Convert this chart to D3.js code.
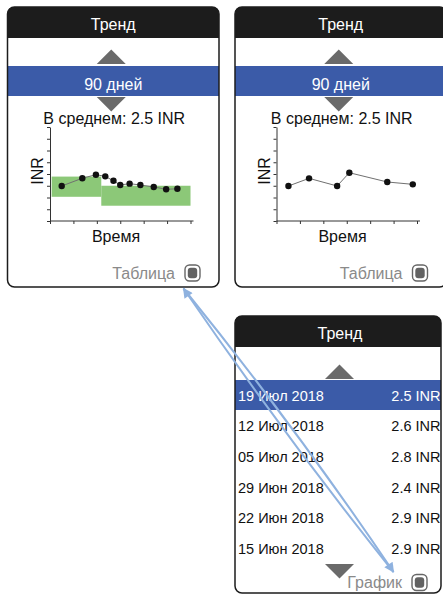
<!DOCTYPE html>
<html><head><meta charset="utf-8">
<script src="https://cdn.jsdelivr.net/npm/d3@7"></script>
<style>html,body{margin:0;padding:0;background:#fff;}svg{display:block;font-family:"Liberation Sans",Arial,sans-serif;}</style>
</head><body>
<script>
// ---- data ----
const leftX = [0.5, 1.38, 1.96, 2.36, 2.71, 3.0, 3.4, 3.86, 4.43, 4.96, 5.44];
const leftY = [2.98, 3.64, 3.94, 3.80, 3.42, 3.06, 3.18, 3.06, 2.90, 2.70, 2.74];
const bandX0 = [0.07, 2.19];
const bandX1 = [2.19, 6.0];
const bandY0 = [2.06, 1.30];
const bandY1 = [3.78, 3.00];
const rightX = [0.51, 1.39, 2.59, 3.11, 4.73, 5.82];
const rightY = [2.98, 3.63, 2.98, 4.11, 3.32, 3.12];
const xTicks = [0, 1, 2, 3, 4, 5, 6];
const yTicks = [0, 1, 2, 3, 4, 5, 6, 7, 8];
const tableDates = ["19 Июл 2018", "12 Июл 2018", "05 Июл 2018", "29 Июн 2018", "22 Июн 2018", "15 Июн 2018"];
const tableValues = ["2.5 INR", "2.6 INR", "2.8 INR", "2.4 INR", "2.9 INR", "2.9 INR"];
const titleText = "Тренд";
const periodText = "90 дней";
const avgText = "В среднем: 2.5 INR";

const W = 443, H = 595;
const BLUE = "#3b5ba8", GREEN = "#8cc878", DARK = "#1c1c1c", TRI = "#6a6a6a", GRAYTXT = "#8a8a8a", ARROW = "#8fb2df";

const svg = d3.select("body").append("svg").attr("width", W).attr("height", H);
const defs = svg.append("defs");
defs.append("marker").attr("id", "ah").attr("viewBox", "0 0 10 10").attr("refX", 9).attr("refY", 5)
  .attr("markerWidth", 14).attr("markerHeight", 10).attr("markerUnits", "userSpaceOnUse").attr("orient", "auto-start-reverse")
  .append("path").attr("d", "M0,0 L10,5 L0,10 Z").attr("fill", ARROW);

function panel(x, y, w, h) {
  const g = svg.append("g");
  const r = 7, tb = 31;
  g.append("rect").attr("x", x).attr("y", y).attr("width", w).attr("height", h).attr("rx", r).attr("fill", "#fff");
  g.append("path").attr("d", `M${x},${y + tb} L${x},${y + r} Q${x},${y} ${x + r},${y} L${x + w - r},${y} Q${x + w},${y} ${x + w},${y + r} L${x + w},${y + tb} Z`).attr("fill", DARK);
  return g;
}
function border(x, y, w, h) {
  svg.append("rect").attr("x", x).attr("y", y).attr("width", w).attr("height", h).attr("rx", 7)
    .attr("fill", "none").attr("stroke", DARK).attr("stroke-width", 1.5);
}
function tri(cx, y, up) {
  const hw = 14.5, hh = 14.5;
  const d = up ? `M${cx - hw},${y + hh} L${cx},${y} L${cx + hw},${y + hh} Z` : `M${cx - hw},${y} L${cx + hw},${y} L${cx},${y + hh} Z`;
  svg.append("path").attr("d", d).attr("fill", TRI);
}
function button(x, y) {
  svg.append("rect").attr("x", x).attr("y", y).attr("width", 15).attr("height", 16).attr("rx", 4.5)
    .attr("fill", "#fff").attr("stroke", "#666").attr("stroke-width", 1.4);
  svg.append("rect").attr("x", x + 2.8).attr("y", y + 2.8).attr("width", 9.4).attr("height", 10.4).attr("rx", 3).attr("fill", "#626262");
}
function text(x, y, s, opts) {
  const t = svg.append("text").attr("x", x).attr("y", y).text(s)
    .attr("font-size", opts.size || 16).attr("fill", opts.fill || "#111")
    .attr("text-anchor", opts.anchor || "middle");
  if (opts.rotate) t.attr("transform", `rotate(-90 ${x} ${y})`);
  return t;
}

function chartPanel(px, axisX, xs, ys, withBands) {
  const pw = 211.5;
  panel(px, 7, pw, 280);
  const cx = px + pw / 2;
  text(cx, 30, titleText, { fill: "#fff" });
  tri(cx - 2, 49.5, true);
  svg.append("rect").attr("x", px).attr("y", 66).attr("width", pw).attr("height", 30).attr("fill", BLUE);
  text(cx, 89.5, periodText, { fill: "#fff" });
  tri(cx - 2, 97, false);
  text(cx + 1, 123.5, avgText, {});

  const x = d3.scaleLinear().domain([0, 6]).range([axisX, axisX + 140.5]);
  const y = d3.scaleLinear().domain([0, 8]).range([221, 127]);
  const g = svg.append("g");
  if (withBands) {
    bandX0.forEach((b, i) => {
      g.append("rect").attr("x", x(bandX0[i])).attr("width", x(bandX1[i]) - x(bandX0[i]))
        .attr("y", y(bandY1[i])).attr("height", y(bandY0[i]) - y(bandY1[i])).attr("fill", GREEN);
    });
  }
  const xa = g.append("g").attr("transform", "translate(0,221)")
    .call(d3.axisBottom(x).tickValues(xTicks).tickSize(3).tickSizeOuter(0).tickFormat(""));
  xa.select(".domain").attr("d", `M${x(0)},0H${x(6) + 3}`);
  const ya = g.append("g").attr("transform", `translate(${axisX},0)`)
    .call(d3.axisLeft(y).tickValues(yTicks).tickSize(3).tickSizeOuter(0).tickFormat(""));
  g.selectAll(".domain, .tick line").attr("stroke", "#333").attr("stroke-width", 1);

  const pts = xs.map((v, i) => [x(v), y(ys[i])]);
  g.append("path").attr("d", d3.line()(pts)).attr("fill", "none").attr("stroke", "#707070").attr("stroke-width", 1);
  g.selectAll("circle").data(pts).join("circle").attr("cx", d => d[0]).attr("cy", d => d[1]).attr("r", 3.2).attr("fill", "#111");

  text(axisX + 66, 241.5, "Время", {});
  text(axisX - 7, 171, "INR", { rotate: true });

  text(px + 167.5, 278.5, "Таблица", { fill: GRAYTXT, anchor: "end" });
  button(px + 177.5, 265);
  border(px, 7, pw, 280);
}

chartPanel(7.5, 50, leftX, leftY, true);
chartPanel(235, 276.5, rightX, rightY, false);

// ---- table panel ----
const tx = 235, tw = 206, ty = 316, th = 277;
panel(tx, ty, tw, th);
text(tx + tw / 2 + 2, 338.5, titleText, { fill: "#fff" });
tri(339.5, 364.5, true);
const rowY = d3.scalePoint().domain(tableDates).range([395, 548.5]);
svg.append("rect").attr("x", tx).attr("y", 380).attr("width", tw).attr("height", 30).attr("fill", BLUE);
tableDates.forEach((d, i) => {
  const c = i === 0 ? "#fff" : "#111";
  text(238, rowY(d) + 5.5, d, { anchor: "start", size: 14.5, fill: c });
  text(440.5, rowY(d) + 5.5, tableValues[i], { anchor: "end", size: 14.5, fill: c });
});
tri(339.5, 564, false);
text(402, 588, "График", { fill: GRAYTXT, anchor: "end" });
button(412, 574.5);
border(tx, ty, tw, th);

// ---- arrows ----
svg.append("path").attr("d", "M183.5,288.5 Q283,434 393.5,572").attr("fill", "none").attr("stroke", ARROW).attr("stroke-width", 2)
  .attr("marker-start", "url(#ah)");
svg.append("path").attr("d", "M183.5,288.5 Q295,426 393.5,572").attr("fill", "none").attr("stroke", ARROW).attr("stroke-width", 2)
  .attr("marker-end", "url(#ah)");
</script>
</body></html>
